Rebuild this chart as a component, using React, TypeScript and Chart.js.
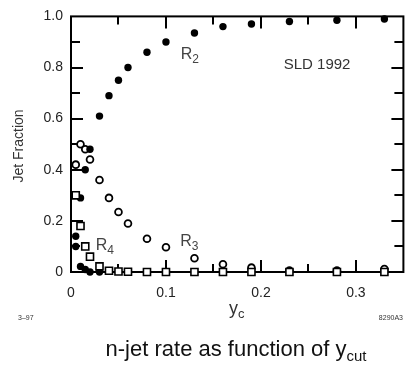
import React, { useEffect, useRef } from "react";
import { Chart, registerables } from "chart.js";
Chart.register(...registerables);

// y_cut values
const ycut = [0.005, 0.01, 0.015, 0.02, 0.03, 0.04, 0.05, 0.06, 0.08, 0.1, 0.13, 0.16, 0.19, 0.23, 0.28, 0.33];
// 2-jet rate R2 (filled circles)
const r2 = [0.14, 0.29, 0.40, 0.48, 0.61, 0.69, 0.75, 0.80, 0.86, 0.90, 0.935, 0.96, 0.97, 0.98, 0.985, 0.99];
// 3-jet rate R3 (open circles)
const r3 = [0.42, 0.50, 0.48, 0.44, 0.36, 0.29, 0.235, 0.19, 0.13, 0.097, 0.054, 0.03, 0.017, 0.006, 0.006, 0.012];
// 4-jet rate R4 (open squares)
const r4 = [0.30, 0.18, 0.10, 0.06, 0.022, 0.005, 0.002, 0.001, 0, 0, 0, 0, 0, 0, 0, 0];
// 5-jet rate (small filled dots near zero)
const ycut5 = [0.005, 0.01, 0.015, 0.02, 0.03];
const r5 = [0.10, 0.022, 0.01, 0.0, 0.0];

const xTickLabels = ["0", "0.1", "0.2", "0.3"];
const yTickLabels = ["0", "0.2", "0.4", "0.6", "0.8", "1.0"];
const xInnerTicks = [0.05, 0.1, 0.15, 0.2, 0.25, 0.3];
const yInnerTicks = [0.1, 0.2, 0.3, 0.4, 0.5, 0.6, 0.7, 0.8, 0.9];

const FONT = '"Liberation Sans", Arial, Helvetica, sans-serif';

export default function App() {
  const ref = useRef<HTMLCanvasElement>(null);

  useEffect(() => {
    document.body.style.margin = "0";
    const canvas = ref.current;
    if (!canvas) return;

    const pts = (xs: number[], ys: number[]) => xs.map((x, i) => ({ x, y: ys[i] }));

    const framePlugin = {
      id: "frame",
      beforeDatasetsDraw(chart: any) {
        const { ctx, chartArea, scales } = chart;
        const { left, right, top, bottom } = chartArea;
        ctx.save();
        ctx.strokeStyle = "#000";
        ctx.lineWidth = 2;
        ctx.strokeRect(left, top, right - left, bottom - top);
        ctx.beginPath();
        xInnerTicks.forEach((v) => {
          const px = Math.round(scales.x.getPixelForValue(v));
          const long = Math.abs(v * 10 - Math.round(v * 10)) < 1e-6;
          const len = long ? 12 : 8;
          ctx.moveTo(px, bottom);
          ctx.lineTo(px, bottom - len);
          ctx.moveTo(px, top);
          ctx.lineTo(px, top + len);
        });
        yInnerTicks.forEach((v) => {
          const py = Math.round(scales.y.getPixelForValue(v));
          const long = Math.abs(v * 5 - Math.round(v * 5)) < 1e-6;
          const len = long ? 12 : 9;
          ctx.moveTo(left, py);
          ctx.lineTo(left + len, py);
          ctx.moveTo(right, py);
          ctx.lineTo(right - len, py);
        });
        ctx.stroke();
        ctx.restore();
      },
      afterDraw(chart: any) {
        const { ctx, scales } = chart;
        const sx = (v: number) => scales.x.getPixelForValue(v);
        const sy = (v: number) => scales.y.getPixelForValue(v);
        ctx.save();
        const sub = (main: string, s: string, x: number, y: number, f1: number, f2: number, color: string, dy: number) => {
          ctx.fillStyle = color;
          ctx.textAlign = "left";
          ctx.textBaseline = "alphabetic";
          ctx.font = `${f1}px ${FONT}`;
          ctx.fillText(main, x, y);
          const w = ctx.measureText(main).width;
          ctx.font = `${f2}px ${FONT}`;
          ctx.fillText(s, x + w, y + dy);
        };
        // series labels
        sub("R", "2", sx(0.1155), sy(0.835), 16, 12, "#444", 4);
        sub("R", "3", sx(0.115), sy(0.10), 16, 12, "#444", 4);
        sub("R", "4", sx(0.026), sy(0.088), 16, 12, "#444", 4);
        ctx.fillStyle = "#333";
        ctx.font = `15px ${FONT}`;
        ctx.textAlign = "left";
        ctx.fillText("SLD 1992", sx(0.224), sy(0.795));

        // y-axis title
        ctx.save();
        ctx.translate(19, 146);
        ctx.rotate(-Math.PI / 2);
        ctx.textAlign = "center";
        ctx.textBaseline = "middle";
        ctx.font = `14px ${FONT}`;
        ctx.fillStyle = "#333";
        ctx.fillText("Jet Fraction", 0, 0);
        ctx.restore();

        // x-axis title y_c
        sub("y", "c", 229, 314, 18, 13, "#333", 4);

        // small codes
        ctx.font = `7px ${FONT}`;
        ctx.fillStyle = "#333";
        ctx.textAlign = "left";
        ctx.fillText("3\u201397", 18, 320);
        ctx.textAlign = "right";
        ctx.fillText("8290A3", 403, 320);

        // caption
        ctx.font = `22px ${FONT}`;
        const mainC = "n-jet rate as function of y";
        const w1 = ctx.measureText(mainC).width;
        ctx.font = `15px ${FONT}`;
        const w2 = ctx.measureText("cut").width;
        const x0 = 236 - (w1 + w2) / 2;
        sub(mainC, "cut", x0, 356, 22, 15, "#111", 5);
        ctx.restore();
      },
    };

    const commonPoint = { showLine: false, clip: false as any };

    const chart = new Chart(canvas, {
      type: "scatter",
      data: {
        datasets: [
          {
            label: "R4",
            data: pts(ycut, r4),
            pointStyle: "rect",
            pointRadius: 5,
            pointBackgroundColor: "#fff",
            pointBorderColor: "#000",
            pointBorderWidth: 1.6,
            ...commonPoint,
          },
          {
            label: "R2",
            data: pts(ycut, r2),
            pointStyle: "circle",
            pointRadius: 3.7,
            pointBackgroundColor: "#000",
            pointBorderColor: "#000",
            pointBorderWidth: 0,
            ...commonPoint,
          },
          {
            label: "R5",
            data: pts(ycut5, r5),
            pointStyle: "circle",
            pointRadius: 3.7,
            pointBackgroundColor: "#000",
            pointBorderColor: "#000",
            pointBorderWidth: 0,
            ...commonPoint,
          },
          {
            label: "R3",
            data: pts(ycut, r3),
            pointStyle: "circle",
            pointRadius: 3.4,
            pointBackgroundColor: "#fff",
            pointBorderColor: "#000",
            pointBorderWidth: 1.8,
            ...commonPoint,
          },
        ],
      },
      options: {
        animation: false,
        responsive: false,
        devicePixelRatio: 1,
        layout: { padding: { left: 0, top: 13, right: 3, bottom: 0 } },
        plugins: { legend: { display: false }, tooltip: { enabled: false } },
        scales: {
          x: {
            type: "linear",
            min: 0,
            max: 0.35,
            border: { display: false },
            grid: { display: false, drawTicks: false },
            ticks: {
              stepSize: 0.1,
              includeBounds: false,
              padding: 13,
              color: "#222",
              font: { family: FONT, size: 14 },
              callback: (v: any) => {
                const i = Math.round(Number(v) * 10);
                return Math.abs(Number(v) * 10 - i) < 1e-6 && i < xTickLabels.length ? xTickLabels[i] : "";
              },
              maxRotation: 0,
            },
            afterFit: (s: any) => {
              s.height = 98;
            },
          },
          y: {
            type: "linear",
            min: 0,
            max: 1,
            border: { display: false },
            grid: { display: false, drawTicks: false },
            ticks: {
              stepSize: 0.2,
              padding: 8,
              color: "#222",
              font: { family: FONT, size: 14 },
              callback: (v: any) => {
                const i = Math.round(Number(v) * 5);
                return yTickLabels[i] ?? "";
              },
            },
            afterFit: (s: any) => {
              s.width = 71;
            },
          },
        },
      },
      plugins: [framePlugin],
    });
    return () => chart.destroy();
  }, []);

  return (
    <div style={{ position: "absolute", left: 0, top: 0, width: 410, height: 370 }}>
      <canvas ref={ref} width={410} height={370} style={{ display: "block" }} />
    </div>
  );
}
